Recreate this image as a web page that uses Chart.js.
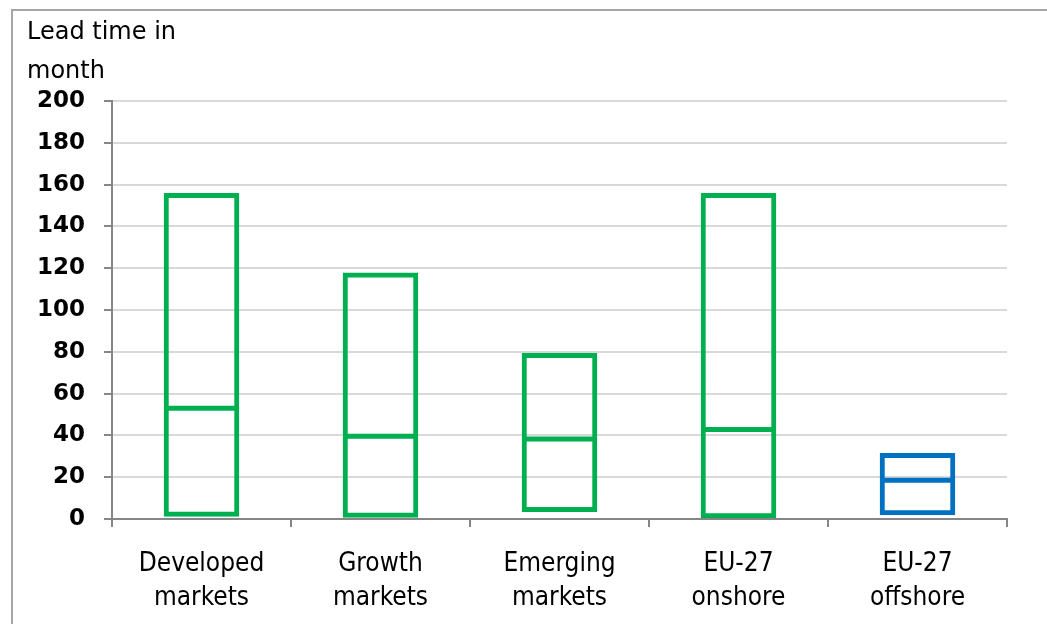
<!DOCTYPE html>
<html>
<head>
<meta charset="utf-8">
<script src="https://cdn.jsdelivr.net/npm/chart.js@4/dist/chart.umd.min.js"></script>
<style>
  html, body { margin: 0; padding: 0; background: #fff; }
  #wrap { position: relative; width: 1047px; height: 624px; }
  #frame {
    position: absolute; left: 11px; top: 9px; right: 0; bottom: 0;
    border-left: 2px solid #a6a6a6; border-top: 2px solid #a6a6a6;
    pointer-events: none;
  }
</style>
</head>
<body>
<div id="wrap">
  <canvas id="chart" width="1047" height="624"></canvas>
  <div id="frame"></div>
</div>
<script>
// Lead time ranges (min..max) and median per market
const categories = [['Developed', 'markets'], ['Growth', 'markets'], ['Emerging', 'markets'], ['EU-27', 'onshore'], ['EU-27', 'offshore']];
const minValues = [2, 1.5, 4.3, 1.3, 2.7];
const maxValues = [155, 117, 78.5, 155, 30.6];
const medianValues = [53, 39.6, 38.3, 42.8, 18.5];
const barColors = ['#00b050', '#00b050', '#00b050', '#00b050', '#0070c0'];
const yTicks = [0, 20, 40, 60, 80, 100, 120, 140, 160, 180, 200];

const BAR_SHARE = 0.40;

const ranges = minValues.map((lo, i) => [lo, maxValues[i]]);

new Chart(document.getElementById('chart'), {
  type: 'bar',
  data: {
    labels: categories,
    datasets: [
      {
        type: 'line',
        label: 'Median',
        data: medianValues,
        showLine: false,
        pointStyle: 'line',
        borderColor: barColors,
        pointBorderColor: barColors,
        pointBorderWidth: 5,
        pointRadius: ctx => ctx.chart.scales.x.width / categories.length * BAR_SHARE / 2,
        order: 0
      },
      {
        label: 'Range',
        data: ranges,
        backgroundColor: 'rgba(0,0,0,0)',
        borderColor: barColors,
        // thin border pushed out both ways, so the stroke sits centred on the value
        borderWidth: 1,
        inflateAmount: 2,
        borderSkipped: false,
        categoryPercentage: 1,
        barPercentage: BAR_SHARE,
        order: 1
      }
    ]
  },
  options: {
    responsive: false,
    animation: false,
    layout: { padding: { left: 27, right: 40, top: 0, bottom: 9 } },
    plugins: {
      legend: { display: false },
      tooltip: { enabled: false },
      title: {
        display: true,
        text: ['Lead time in', 'month'],
        align: 'start',
        color: '#000',
        font: { family: "'DejaVu Sans'", size: 24, weight: 'normal', lineHeight: 1.625 },
        padding: { top: 13, bottom: 10 }
      }
    },
    scales: {
      x: {
        afterFit: scale => { scale.height = 96; },
        grid: { drawOnChartArea: false, color: '#868686', tickColor: '#868686', lineWidth: 2, tickLength: 8 },
        border: { color: '#868686', width: 2 },
        ticks: {
          color: '#000',
          padding: 20,
          font: { family: "'DejaVu Sans Condensed', 'DejaVu Sans'", size: 26, lineHeight: 1.31 }
        }
      },
      y: {
        min: 0,
        max: 200,
        afterFit: scale => { scale.width = 85; },
        afterBuildTicks: scale => { scale.ticks = yTicks.map(v => ({ value: v })); },
        grid: { color: '#d9d9d9', tickColor: '#868686', lineWidth: 2, tickLength: 8 },
        border: { color: '#868686', width: 2 },
        ticks: {
          color: '#000',
          padding: 19,
          font: { family: "'DejaVu Sans'", size: 23, weight: 'bold' }
        }
      }
    }
  }
});
</script>
</body>
</html>
